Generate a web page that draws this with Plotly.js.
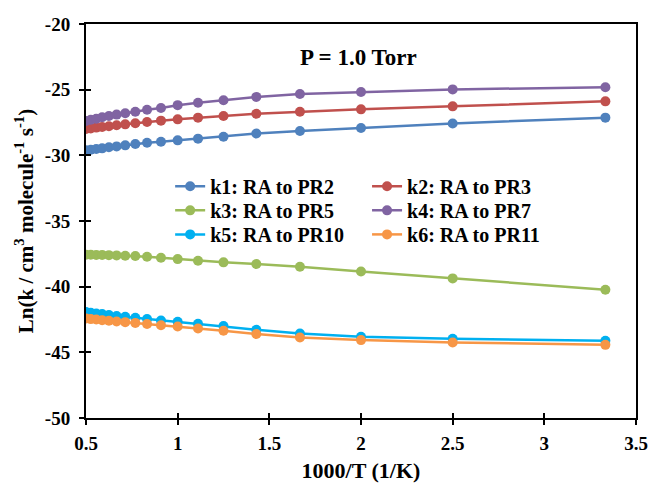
<!DOCTYPE html>
<html>
<head>
<meta charset="utf-8">
<script src="https://cdn.plot.ly/plotly-3.0.1.min.js"></script>
<style>html,body{margin:0;padding:0;background:#fff;}#chart{width:651px;height:486px;}</style>
</head>
<body>
<div id="chart"></div>
<script>
// 1000/T values (1/K)
var invT = [0.5, 0.526, 0.556, 0.588, 0.625, 0.667, 0.714, 0.769, 0.833, 0.909, 1.0, 1.111, 1.25, 1.429, 1.667, 2.0, 2.5, 3.333];

var k1 = [-29.62, -29.57, -29.52, -29.47, -29.39, -29.32, -29.24, -29.14, -29.04, -28.97, -28.86, -28.73, -28.58, -28.34, -28.15, -27.92, -27.57, -27.13];
var k2 = [-28.0, -27.95, -27.89, -27.84, -27.79, -27.71, -27.64, -27.56, -27.46, -27.36, -27.26, -27.13, -27.0, -26.83, -26.68, -26.5, -26.27, -25.89];
var k3 = [-37.57, -37.57, -37.58, -37.58, -37.6, -37.62, -37.65, -37.67, -37.72, -37.8, -37.9, -38.03, -38.15, -38.28, -38.48, -38.84, -39.37, -40.23];
var k4 = [-27.39, -27.29, -27.21, -27.1, -27.0, -26.9, -26.8, -26.68, -26.53, -26.4, -26.18, -26.0, -25.8, -25.55, -25.33, -25.18, -24.98, -24.82];
var k5 = [-41.93, -41.98, -42.04, -42.09, -42.16, -42.24, -42.3, -42.37, -42.46, -42.57, -42.68, -42.82, -43.0, -43.28, -43.56, -43.81, -43.97, -44.12];
var k6 = [-42.42, -42.47, -42.5, -42.55, -42.6, -42.65, -42.7, -42.76, -42.84, -42.94, -43.03, -43.18, -43.36, -43.61, -43.87, -44.07, -44.25, -44.43];

var names = ['k1: RA to PR2', 'k2: RA to PR3', 'k3: RA to PR5', 'k4: RA to PR7', 'k5: RA to PR10', 'k6: RA to PR11'];
var series = [k1, k2, k3, k4, k5, k6];
var colors = ['#4F81BD', '#C0504D', '#9BBB59', '#8064A2', '#00B0F0', '#F79646'];
var legendIds = ['legend', 'legend2', 'legend3', 'legend4', 'legend5', 'legend6'];

var xTickVals = [0.5, 1, 1.5, 2, 2.5, 3, 3.5];
var xTickText = ['0.5', '1', '1.5', '2', '2.5', '3', '3.5'];
var yTickVals = [-50, -45, -40, -35, -30, -25, -20];
var yTickText = ['-50', '-45', '-40', '-35', '-30', '-25', '-20'];

var serif = '"Liberation Serif", "Times New Roman", serif';

var traces = series.map(function (s, i) {
  return {
    x: invT, y: s, name: names[i], type: 'scatter', mode: 'lines+markers',
    line: {color: colors[i], width: 2.5},
    marker: {color: colors[i], size: 10},
    legend: legendIds[i]
  };
});

var legendFont = {family: serif, size: 20, color: '#000', weight: 'bold'};
var tickFont = {family: serif, size: 19, color: '#000', weight: 'bold'};

// legend grid placement (paper coords): two columns, three rows
var legCols = [0.153, 0.511];
var legRows = [0.588, 0.527, 0.466];

var layout = {
  width: 651, height: 486,
  margin: {l: 86, r: 15, t: 24, b: 68},
  paper_bgcolor: '#fff', plot_bgcolor: '#fff',
  font: {family: serif, color: '#000'},
  showlegend: true,
  xaxis: {
    range: [0.5, 3.5], tickmode: 'array', tickvals: xTickVals, ticktext: xTickText,
    showgrid: false, zeroline: false,
    showline: true, linecolor: '#000', linewidth: 2, mirror: true,
    ticks: 'outside', ticklen: 5, tickwidth: 2, tickcolor: '#000',
    ticklabelstandoff: 2,
    tickfont: tickFont,
    title: {text: '1000/T (1/K)', font: {family: serif, size: 22, color: '#000', weight: 'bold'}, standoff: 10}
  },
  yaxis: {
    range: [-50, -20], tickmode: 'array', tickvals: yTickVals, ticktext: yTickText,
    showgrid: false, zeroline: false,
    showline: true, linecolor: '#000', linewidth: 2, mirror: true,
    ticks: 'outside', ticklen: 5, tickwidth: 2, tickcolor: '#000',
    ticklabelstandoff: 5,
    tickfont: tickFont,
    title: {text: 'Ln(k / cm<sup>3</sup> molecule<sup>-1</sup> s<sup>-1</sup>)', font: {family: serif, size: 21, color: '#000', weight: 'bold'}, standoff: 6}
  },
  xaxis2: {
    overlaying: 'x', matches: 'x', range: [0.5, 3.5], tickmode: 'array', tickvals: xTickVals, side: 'bottom',
    showgrid: false, zeroline: false, showline: false, showticklabels: false,
    ticks: 'inside', ticklen: 5, tickwidth: 2, tickcolor: '#000'
  },
  yaxis2: {
    overlaying: 'y', matches: 'y', range: [-50, -20], tickmode: 'array', tickvals: yTickVals, side: 'left',
    showgrid: false, zeroline: false, showline: false, showticklabels: false,
    ticks: 'inside', ticklen: 5, tickwidth: 2, tickcolor: '#000'
  },
  annotations: [{
    text: 'P = 1.0 Torr', xref: 'paper', yref: 'paper', x: 0.495, y: 0.916,
    xanchor: 'center', yanchor: 'middle',
    showarrow: false, font: {family: serif, size: 23, color: '#000', weight: 'bold'}
  }]
};

legendIds.forEach(function (id, i) {
  layout[id] = {
    x: legCols[i % 2], y: legRows[Math.floor(i / 2)], xanchor: 'left', yanchor: 'middle',
    bgcolor: 'rgba(0,0,0,0)', font: legendFont, itemwidth: 30
  };
});

// invisible point that makes the overlay axes draw (crossing ticks)
traces.push({x: [0.5], y: [-50], xaxis: 'x2', yaxis: 'y2', mode: 'markers', marker: {opacity: 0}, showlegend: false, hoverinfo: 'skip'});

Plotly.newPlot('chart', traces, layout, {staticPlot: true});
</script>
</body>
</html>
